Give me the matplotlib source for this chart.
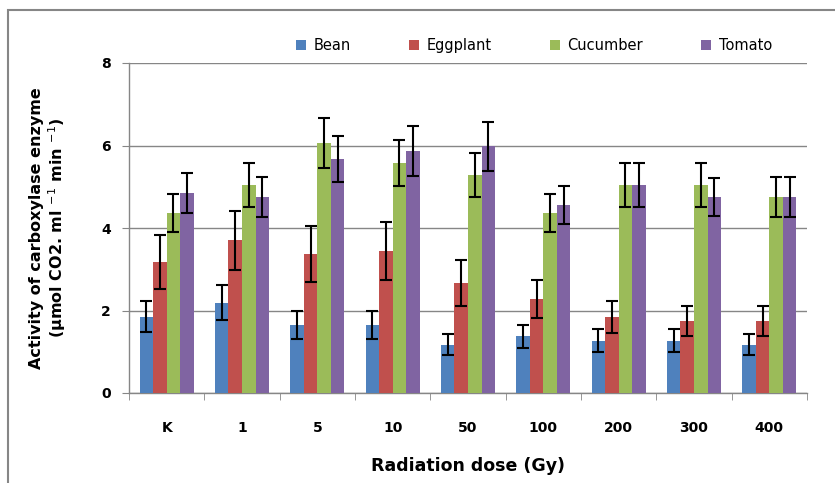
import numpy as np
import matplotlib.pyplot as plt
from matplotlib.patches import Rectangle

doses = ["K", "1", "5", "10", "50", "100", "200", "300", "400"]
species = ["Bean", "Eggplant", "Cucumber", "Tomato"]
colors = ["#4F81BD", "#C0504D", "#9BBB59", "#8064A2"]

# mean activity per dose
bean = [1.85, 2.19, 1.66, 1.66, 1.17, 1.37, 1.27, 1.27, 1.17]
eggplant = [3.17, 3.70, 3.36, 3.45, 2.67, 2.29, 1.85, 1.75, 1.75]
cucumber = [4.37, 5.05, 6.06, 5.58, 5.29, 4.37, 5.05, 5.05, 4.75]
tomato = [4.85, 4.75, 5.68, 5.87, 5.98, 4.56, 5.05, 4.75, 4.75]

# error bars (+/-)
bean_err = [0.38, 0.43, 0.34, 0.34, 0.25, 0.27, 0.27, 0.27, 0.25]
eggplant_err = [0.65, 0.72, 0.68, 0.70, 0.56, 0.46, 0.39, 0.36, 0.36]
cucumber_err = [0.46, 0.53, 0.60, 0.56, 0.54, 0.46, 0.53, 0.53, 0.48]
tomato_err = [0.48, 0.49, 0.56, 0.61, 0.60, 0.46, 0.53, 0.46, 0.48]

values = [bean, eggplant, cucumber, tomato]
errors = [bean_err, eggplant_err, cucumber_err, tomato_err]

fig = plt.figure(figsize=(8.35, 4.83), dpi=100)
ax = fig.add_axes([129 / 835, 1 - 393 / 483, 678 / 835, 330 / 483])

x = np.arange(len(doses))
w = 0.18
grey = "#868686"

for i, (name, vals, errs, c) in enumerate(zip(species, values, errors, colors)):
    pos = x + (i - 1.5) * w
    ax.bar(pos, vals, width=w, color=c, label=name, zorder=3)
    ax.errorbar(pos, vals, yerr=errs, fmt="none", ecolor="black",
                elinewidth=1.5, capsize=4.5, capthick=1.5, zorder=4)

ax.set_xlim(-0.5, len(doses) - 0.5)
ax.set_ylim(0, 8)
ax.set_yticks([0, 2, 4, 6, 8])
ax.yaxis.grid(True, color=grey, linewidth=1, zorder=0)

ax.set_xticks(x)
ax.set_xticklabels(doses, fontweight="bold", fontsize=10)
ax.set_xticks(np.arange(-0.5, len(doses)), minor=True)
ax.tick_params(axis="x", which="major", length=0, pad=20)
ax.tick_params(axis="x", which="minor", length=5, color=grey, direction="out")
ax.tick_params(axis="y", length=5, color=grey, pad=8, labelsize=10)
for lab in ax.get_yticklabels():
    lab.set_fontweight("bold")

for s in ["top", "right"]:
    ax.spines[s].set_visible(False)
for s in ["left", "bottom"]:
    ax.spines[s].set_color(grey)
    ax.spines[s].set_linewidth(1)

ax.set_xlabel("Radiation dose (Gy)", fontsize=12.5, fontweight="bold", labelpad=16)
ax.set_ylabel("Activity of carboxylase enzyme\n"
              r"(µmol CO2. ml $^{-1}$ min $^{-1}$)",
              fontsize=11.5, fontweight="bold", labelpad=24, linespacing=1.15)

ax.legend(loc="lower center", bbox_to_anchor=(0.597, 1.0), ncol=4, frameon=False,
          fontsize=10.5, handlelength=0.7, handleheight=0.7, handletextpad=0.5,
          columnspacing=4.0, borderaxespad=0.3)

# chart area border
fig.patches.append(Rectangle((8 / 835, -0.1), 1.1, 1 - 10 / 483 + 0.1,
                             transform=fig.transFigure, fill=False,
                             edgecolor=grey, linewidth=1.5))

fig.savefig("out.png", dpi=100)
